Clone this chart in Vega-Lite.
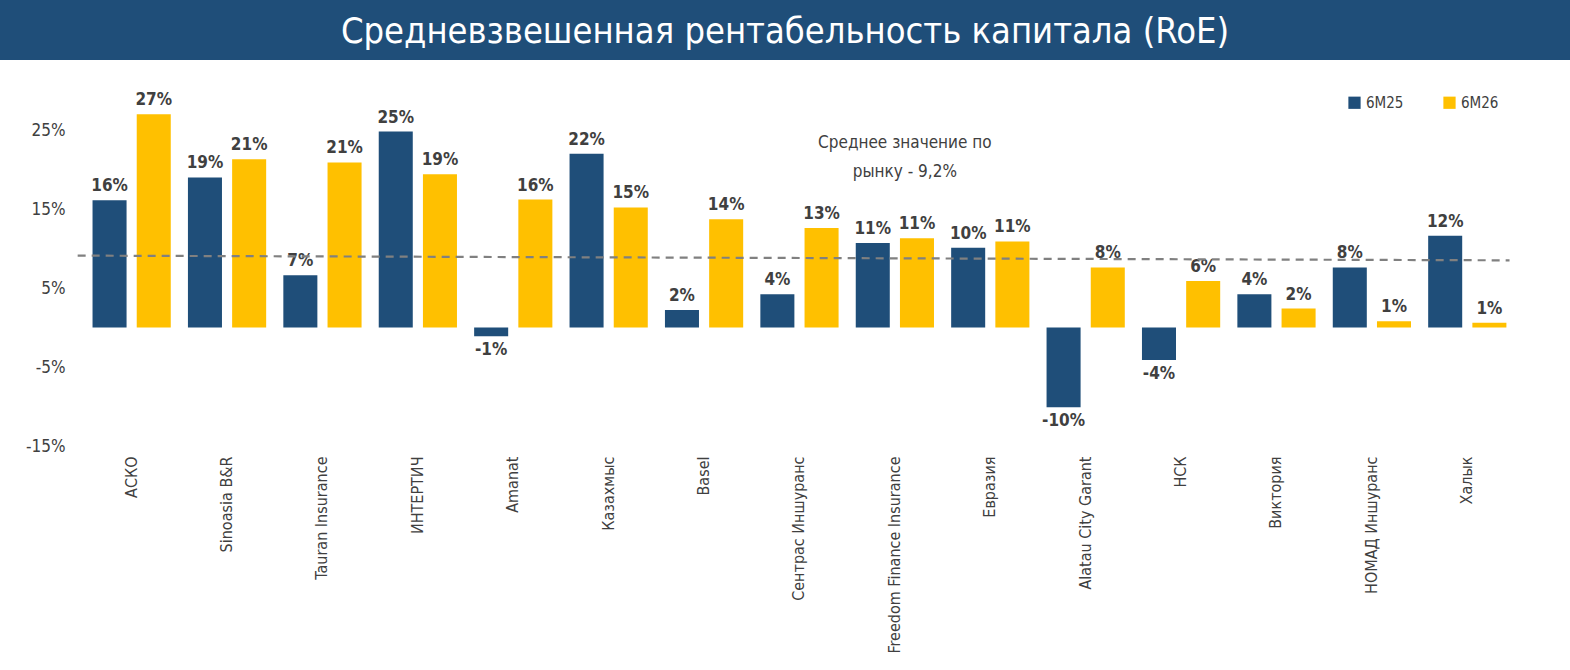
{
  "$schema": "https://vega.github.io/schema/vega-lite/v6.json",
  "description": "Средневзвешенная рентабельность капитала (RoE), 6M25 и 6M26",
  "padding": 0,
  "background": "white",
  "spacing": 30.5,
  "config": {
    "view": {"stroke": null},
    "font": "DejaVu Sans Condensed, Roboto, sans-serif",
    "text": {"font": "DejaVu Sans Condensed, Roboto, sans-serif"}
  },
  "vconcat": [
    {
      "width": 1570,
      "height": 60,
      "view": {"fill": "#1F4E79", "stroke": null},
      "data": {"values": [{"title": "Средневзвешенная рентабельность капитала (RoE)"}]},
      "mark": {
        "type": "text",
        "color": "white",
        "fontSize": 36,
        "align": "center",
        "baseline": "middle",
        "dy": 2
      },
      "encoding": {"text": {"field": "title"}}
    },
    {
      "width": 1515,
      "height": 355.5,
      "data": {
        "values": [
          {"company": "АСКО", "period": "6M25", "value": 16.1},
          {"company": "АСКО", "period": "6M26", "value": 27.0},
          {"company": "Sinoasia B&R", "period": "6M25", "value": 19.0},
          {"company": "Sinoasia B&R", "period": "6M26", "value": 21.3},
          {"company": "Tauran Insurance", "period": "6M25", "value": 6.6},
          {"company": "Tauran Insurance", "period": "6M26", "value": 20.9},
          {"company": "ИНТЕРТИЧ", "period": "6M25", "value": 24.8},
          {"company": "ИНТЕРТИЧ", "period": "6M26", "value": 19.4},
          {"company": "Amanat", "period": "6M25", "value": -1.1},
          {"company": "Amanat", "period": "6M26", "value": 16.2},
          {"company": "Казахмыс", "period": "6M25", "value": 22.0},
          {"company": "Казахмыс", "period": "6M26", "value": 15.2},
          {"company": "Basel", "period": "6M25", "value": 2.2},
          {"company": "Basel", "period": "6M26", "value": 13.7},
          {"company": "Сентрас Иншуранс", "period": "6M25", "value": 4.2},
          {"company": "Сентрас Иншуранс", "period": "6M26", "value": 12.6},
          {"company": "Freedom Finance Insurance", "period": "6M25", "value": 10.7},
          {"company": "Freedom Finance Insurance", "period": "6M26", "value": 11.3},
          {"company": "Евразия", "period": "6M25", "value": 10.1},
          {"company": "Евразия", "period": "6M26", "value": 10.9},
          {"company": "Alatau City Garant", "period": "6M25", "value": -10.1},
          {"company": "Alatau City Garant", "period": "6M26", "value": 7.6},
          {"company": "НСК", "period": "6M25", "value": -4.1},
          {"company": "НСК", "period": "6M26", "value": 5.9},
          {"company": "Виктория", "period": "6M25", "value": 4.2},
          {"company": "Виктория", "period": "6M26", "value": 2.4},
          {"company": "НОМАД Иншуранс", "period": "6M25", "value": 7.6},
          {"company": "НОМАД Иншуранс", "period": "6M26", "value": 0.8},
          {"company": "Халык", "period": "6M25", "value": 11.6},
          {"company": "Халык", "period": "6M26", "value": 0.6}
        ]
      },
      "transform": [
        {"calculate": "round(datum.value) + '%'", "as": "label"}
      ],
      "layer": [
        {
          "mark": {"type": "bar"},
          "encoding": {
            "x": {
              "field": "company",
              "type": "nominal",
              "sort": null,
              "scale": {"paddingInner": 0.18, "paddingOuter": 0.53, "align": 0.915},
              "axis": {
                "title": null,
                "domain": false,
                "ticks": false,
                "labelAngle": -90,
                "labelFontSize": 16,
                "labelColor": "#404040",
                "labelPadding": 10,
                "labelLimit": 300
              }
            },
            "xOffset": {"field": "period", "scale": {"paddingInner": 0.23}},
            "y": {
              "field": "value",
              "type": "quantitative",
              "scale": {"domain": [-15, 30], "nice": false},
              "axis": {
                "title": null,
                "values": [-15, -5, 5, 15, 25],
                "labelExpr": "datum.value + '%'",
                "domain": false,
                "ticks": false,
                "grid": false,
                "offset": -84,
                "labelFontSize": 17,
                "labelColor": "#404040",
                "labelPadding": 19
              }
            },
            "color": {
              "field": "period",
              "type": "nominal",
              "scale": {"domain": ["6M25", "6M26"], "range": ["#1F4E79", "#FFC000"]},
              "legend": {
                "title": null,
                "orient": "none",
                "direction": "horizontal",
                "legendX": 1347,
                "legendY": 95,
                "symbolType": "square",
                "symbolSize": 150,
                "symbolStrokeWidth": 0,
                "labelFontSize": 15,
                "labelColor": "#404040",
                "labelOffset": 4,
                "columnPadding": 38
              }
            }
          }
        },
        {
          "transform": [{"filter": "datum.value >= 0"}],
          "mark": {
            "type": "text",
            "fontSize": 17,
            "fontWeight": "bold",
            "color": "#404040",
            "baseline": "bottom",
            "dy": -5
          },
          "encoding": {
            "x": {"field": "company", "type": "nominal", "sort": null},
            "xOffset": {"field": "period", "scale": {"paddingInner": 0.23}},
            "y": {"field": "value", "type": "quantitative"},
            "text": {"field": "label"}
          }
        },
        {
          "transform": [{"filter": "datum.value < 0"}],
          "mark": {
            "type": "text",
            "fontSize": 17,
            "fontWeight": "bold",
            "color": "#404040",
            "baseline": "top",
            "dy": 6
          },
          "encoding": {
            "x": {"field": "company", "type": "nominal", "sort": null},
            "xOffset": {"field": "period", "scale": {"paddingInner": 0.23}},
            "y": {"field": "value", "type": "quantitative"},
            "text": {"field": "label"}
          }
        },
        {
          "data": {
            "values": [
              {"company": "АСКО", "company_end": "Халык", "avg": 9.1, "avg_end": 8.5}
            ]
          },
          "mark": {"type": "rule", "color": "#808080", "strokeWidth": 2.2, "strokeDash": [8, 6]},
          "encoding": {
            "x": {"field": "company", "type": "nominal", "sort": null, "bandPosition": -0.19},
            "x2": {"field": "company_end", "bandPosition": 1.04},
            "y": {"field": "avg", "type": "quantitative"},
            "y2": {"field": "avg_end"}
          }
        },
        {
          "data": {
            "values": [
              {"company": "Freedom Finance Insurance", "ypos": 23.3, "note": ["Среднее значение по", "рынку - 9,2%"]}
            ]
          },
          "mark": {
            "type": "text",
            "fontSize": 17,
            "color": "#404040",
            "lineHeight": 29,
            "baseline": "middle",
            "dx": 10
          },
          "encoding": {
            "x": {"field": "company", "type": "nominal", "sort": null},
            "y": {"field": "ypos", "type": "quantitative"},
            "text": {"field": "note"}
          }
        }
      ]
    }
  ]
}
